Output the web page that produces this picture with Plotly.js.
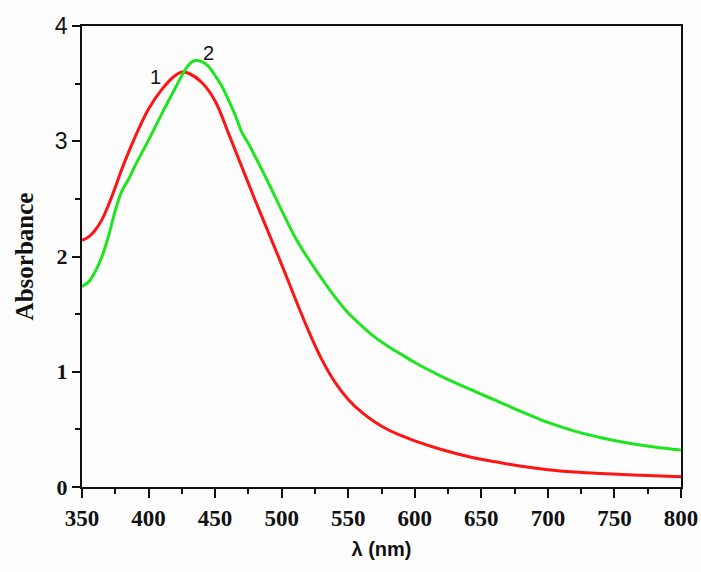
<!DOCTYPE html>
<html>
<head>
<meta charset="utf-8">
<script src="https://cdn.plot.ly/plotly-3.0.1.min.js"></script>
<style>html,body{margin:0;padding:0;background:#fff;}#chart{width:701px;height:572px;}</style>
</head>
<body>
<div id="chart"></div>
<script>
// Curve 1 (red)
const wl1 = [350, 355, 360, 365, 370, 375, 380, 390, 400, 410, 420, 425, 430, 440, 450, 460, 470, 480, 490, 500, 510, 520, 530, 540, 550, 560, 570, 580, 590, 600, 620, 640, 660, 680, 700, 720, 740, 760, 780, 800];
const abs1 = [2.14, 2.17, 2.23, 2.32, 2.45, 2.60, 2.76, 3.04, 3.28, 3.45, 3.57, 3.60, 3.59, 3.51, 3.35, 3.07, 2.78, 2.49, 2.21, 1.93, 1.64, 1.36, 1.11, 0.91, 0.76, 0.65, 0.565, 0.497, 0.445, 0.40, 0.325, 0.265, 0.22, 0.18, 0.15, 0.13, 0.117, 0.107, 0.098, 0.09];
// Curve 2 (green)
const wl2 = [350, 355, 360, 365, 370, 375, 380, 385, 390, 400, 410, 420, 425, 430, 435, 440, 445, 450, 455, 460, 465, 470, 475, 480, 490, 500, 510, 520, 530, 540, 550, 560, 570, 580, 590, 600, 620, 640, 660, 680, 700, 720, 740, 760, 780, 800];
const abs2 = [1.74, 1.78, 1.87, 2.00, 2.18, 2.40, 2.57, 2.67, 2.79, 3.01, 3.24, 3.46, 3.57, 3.66, 3.70, 3.69, 3.65, 3.57, 3.48, 3.36, 3.23, 3.08, 2.98, 2.87, 2.64, 2.40, 2.17, 1.98, 1.81, 1.65, 1.51, 1.40, 1.30, 1.22, 1.15, 1.08, 0.96, 0.855, 0.755, 0.655, 0.56, 0.485, 0.428, 0.382, 0.347, 0.32];
// Tick labels
const xTickVals = [350, 400, 450, 500, 550, 600, 650, 700, 750, 800];
const xTickText = ['<b>350</b>', '<b>400</b>', '<b>450</b>', '<b>500</b>', '<b>550</b>', '<b>600</b>', '<b>650</b>', '<b>700</b>', '<b>750</b>', '<b>800</b>'];
const yTickVals = [0, 1, 2, 3, 4];
const yTickText = ['<b>0</b>', '<b>1</b>', '<b>2</b>', '<span style="font-family:Liberation Sans, Arial;font-size:23px">3</span>', '<span style="font-family:Liberation Sans, Arial;font-size:23px">4</span>'];
// Curve labels
const curveLabels = ['1', '2'];
const labelX = [405, 445];
const labelY = [3.56, 3.77];

const traces = [
  {x: wl1, y: abs1, mode: 'lines', line: {color: '#ff1414', width: 3, shape: 'spline', smoothing: 1}, hoverinfo: 'skip'},
  {x: wl2, y: abs2, mode: 'lines', line: {color: '#1ee61e', width: 3, shape: 'spline', smoothing: 1}, hoverinfo: 'skip'}
];

const annotations = curveLabels.map((t, i) => ({
  x: labelX[i], y: labelY[i], xref: 'x', yref: 'y', text: t, showarrow: false,
  font: {family: 'Liberation Sans, Arial', size: 20, color: '#111'}
}));

const layout = {
  width: 701, height: 572,
  margin: {l: 82, r: 20, t: 26, b: 85, pad: 0},
  paper_bgcolor: '#fdfdfd', plot_bgcolor: '#fdfdfd',
  showlegend: false,
  xaxis: {
    range: [350, 800], tickvals: xTickVals, ticktext: xTickText, ticks: 'outside', ticklen: 9, tickwidth: 2, tickcolor: '#111',
    showline: true, linewidth: 2, linecolor: '#111', mirror: true, showgrid: false, zeroline: false,
    minor: {dtick: 25, tick0: 350, ticks: 'outside', ticklen: 5, tickwidth: 2, tickcolor: '#111', showgrid: false},
    tickfont: {family: 'Liberation Serif, Times New Roman', size: 23, color: '#111'},
    title: {text: '<b>λ (nm)</b>', font: {family: 'Liberation Sans, Arial', size: 20, color: '#111'}, standoff: 12}
  },
  yaxis: {
    range: [0, 4], tickvals: yTickVals, ticktext: yTickText, ticks: 'outside', ticklen: 8, tickwidth: 2, tickcolor: '#111',
    showline: true, linewidth: 2, linecolor: '#111', mirror: true, showgrid: false, zeroline: false,
    minor: {dtick: 0.5, tick0: 0, ticks: 'outside', ticklen: 5, tickwidth: 2, tickcolor: '#111', showgrid: false},
    tickfont: {family: 'Liberation Serif, Times New Roman', size: 22, color: '#111'},
    title: {text: '<b>Absorbance</b>', font: {family: 'Liberation Serif, Times New Roman', size: 25, color: '#111'}, standoff: 14}
  },
  annotations: annotations
};

Plotly.newPlot('chart', traces, layout, {displayModeBar: false, staticPlot: true});
</script>
</body>
</html>
